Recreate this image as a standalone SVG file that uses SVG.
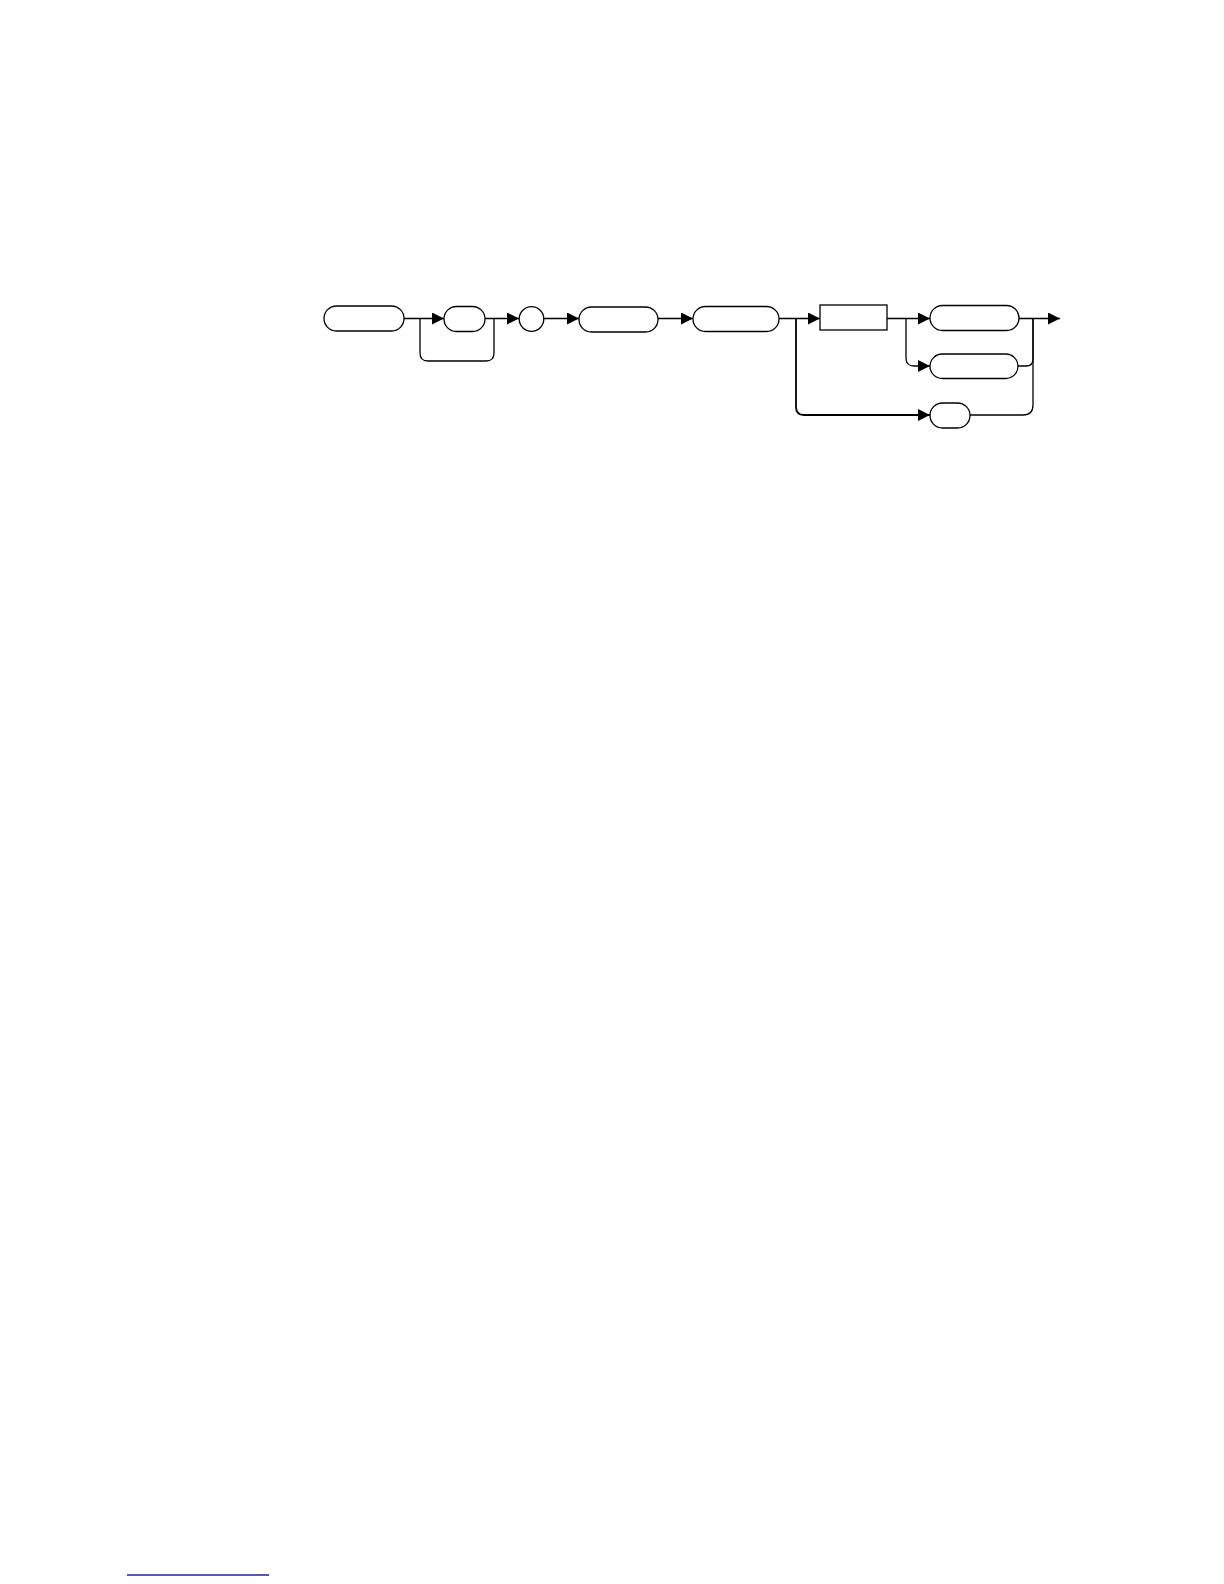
<svg xmlns="http://www.w3.org/2000/svg" width="1224" height="1584" viewBox="0 0 1224 1584">
<style>
.n{fill:#fff;stroke:#000;stroke-width:1.3}
.c{fill:none;stroke:#000;stroke-width:1.3}
</style>
<defs>
<marker id="ah" markerUnits="userSpaceOnUse" markerWidth="13" markerHeight="13" refX="12" refY="6" orient="auto">
<path d="M0,0 L12,6 L0,12 z" fill="#000"/>
</marker>
</defs>
<rect width="1224" height="1584" fill="#fff"/>
<g id="connectors">
<path class="c" d="M404,318.5 H444" marker-end="url(#ah)"/>
<path class="c" d="M420,318.5 V353 Q420,361 428,361 H486 Q494,361 494,353 V318.5"/>
<path class="c" d="M485,318.5 H519" marker-end="url(#ah)"/>
<path class="c" d="M544,318.5 H579" marker-end="url(#ah)"/>
<path class="c" d="M658,318.5 H693" marker-end="url(#ah)"/>
<path class="c" d="M779,318.5 H820" marker-end="url(#ah)"/>
<path class="c" style="stroke-width:1.8" d="M796,318.5 V407 Q796,415 804,415 H930" marker-end="url(#ah)"/>
<path class="c" d="M887,318.5 H930" marker-end="url(#ah)"/>
<path class="c" d="M906,318.5 V358 Q906,366 914,366 H930" marker-end="url(#ah)"/>
<path class="c" d="M1019,318.5 H1060" marker-end="url(#ah)"/>
<path class="c" d="M1018,366 H1026 Q1033,366 1033,359 V318.5"/>
<path class="c" d="M970,415 H1023 Q1033,415 1033,405 V318.5"/>
</g>
<g id="node1"><rect class="n" x="324" y="306" width="80" height="25" rx="12.5"/></g>
<g id="node2"><rect class="n" x="444" y="306.5" width="41" height="25" rx="12.5"/></g>
<g id="node3"><circle class="n" cx="531.5" cy="319" r="12.3"/></g>
<g id="node4"><rect class="n" x="579" y="307" width="79" height="25" rx="12.5"/></g>
<g id="node5"><rect class="n" x="693" y="306.5" width="86" height="25" rx="12.5"/></g>
<g id="node6"><rect class="n" x="820" y="305" width="67" height="25"/></g>
<g id="node7"><rect class="n" x="930" y="305.5" width="89" height="25" rx="12.5"/></g>
<g id="node8"><rect class="n" x="930" y="354" width="88" height="24.5" rx="12.3"/></g>
<g id="node9"><rect class="n" x="930" y="403" width="40" height="25" rx="12.5"/></g>
<line x1="127" y1="1575" x2="269" y2="1575" stroke="#1f1f9e" stroke-width="1.3"/>
</svg>
